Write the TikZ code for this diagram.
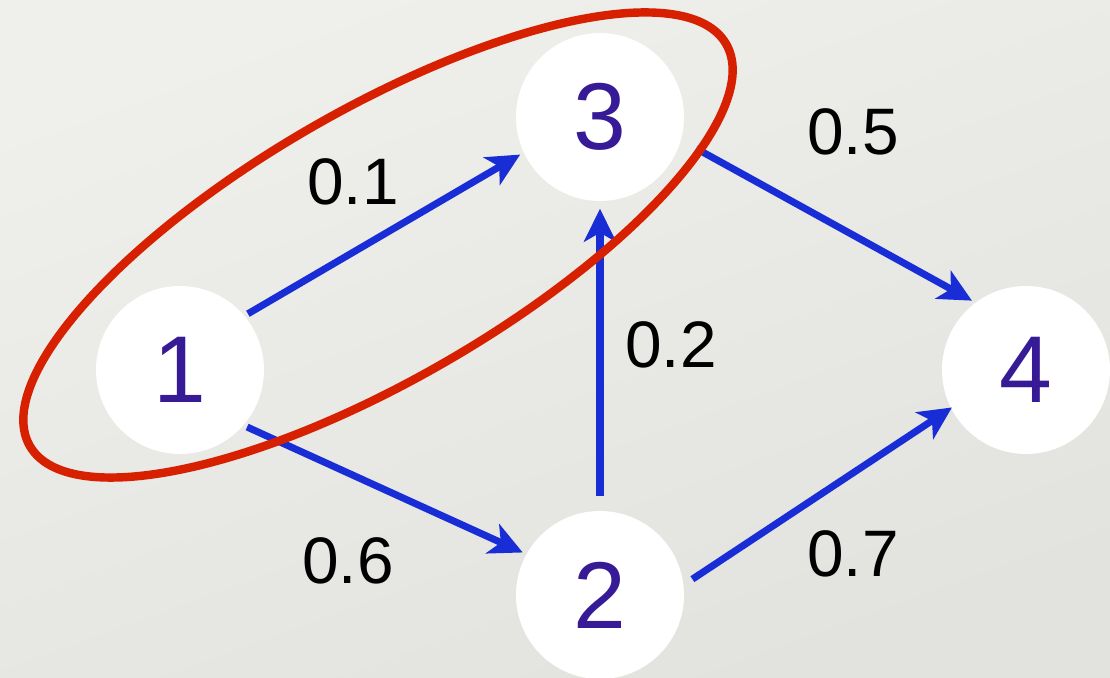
\documentclass[tikz,border=0pt]{standalone}
\usepackage{fontspec}
\setmainfont{Liberation Sans}
\usetikzlibrary{positioning,arrows.meta}
\definecolor{arcblue}{RGB}{25,45,215}
\definecolor{ringred}{RGB}{214,32,0}
\definecolor{digitpurple}{RGB}{55,27,150}
\definecolor{bglight}{RGB}{239,239,235}
\definecolor{bgdark}{RGB}{226,226,222}

\begin{document}
\begin{tikzpicture}[
  vtx/.style={circle, fill=white, minimum size=16.8mm, inner sep=0pt,
    font=\fontsize{27}{27}\selectfont, text=digitpurple},
  wt/.style={inner sep=0pt, font=\fontsize{18.7}{19}\selectfont},
  arr/.style={-{Stealth[length=3.3mm, width=3.2mm, inset=0.9mm]}, arcblue,
    line width=2pt, shorten <=1pt, shorten >=1pt}]
\shade[top color=bglight, bottom color=bgdark, shading angle=20] (0,0) rectangle (11.1,6.78);
\useasboundingbox (0,0) rectangle (11.1,6.78);
\node[vtx] (v1) at (1.80,3.08) {1};
\node[vtx] (v3) at (6.00,5.61) {3};
\node[vtx] (v2) at (6.00,0.83) {2};
\node[vtx] (v4) at (10.26,3.08) {4};
\draw[arr] (v1.40) -- (v3.205);
\draw[arr] (v1.-41) -- (v2.151);
\draw[arr, shorten <=1.4mm, shorten >=0.7mm] (v2) -- (v3);
\draw[arr, shorten <=1.7mm] (v3.-16) -- (v4.127);
\draw[arr, shorten <=1mm, shorten >=-0.5pt] (v2.7) -- (v4.207);
\node[wt] (w13) at (3.53,4.96) {0.1};
\node[wt] (w34) at (8.53,5.465) {0.5};
\node[wt] (w23) at (6.71,3.33) {0.2};
\node[wt] (w12) at (3.48,1.175) {0.6};
\node[wt] (w24) at (8.53,1.245) {0.7};
% the cut {1,3}
\draw[ringred, line width=2.4pt, rotate around={30:(3.78,4.33)}] (3.78,4.33) ellipse (4.02 and 1.35);
\end{tikzpicture}
\end{document}
